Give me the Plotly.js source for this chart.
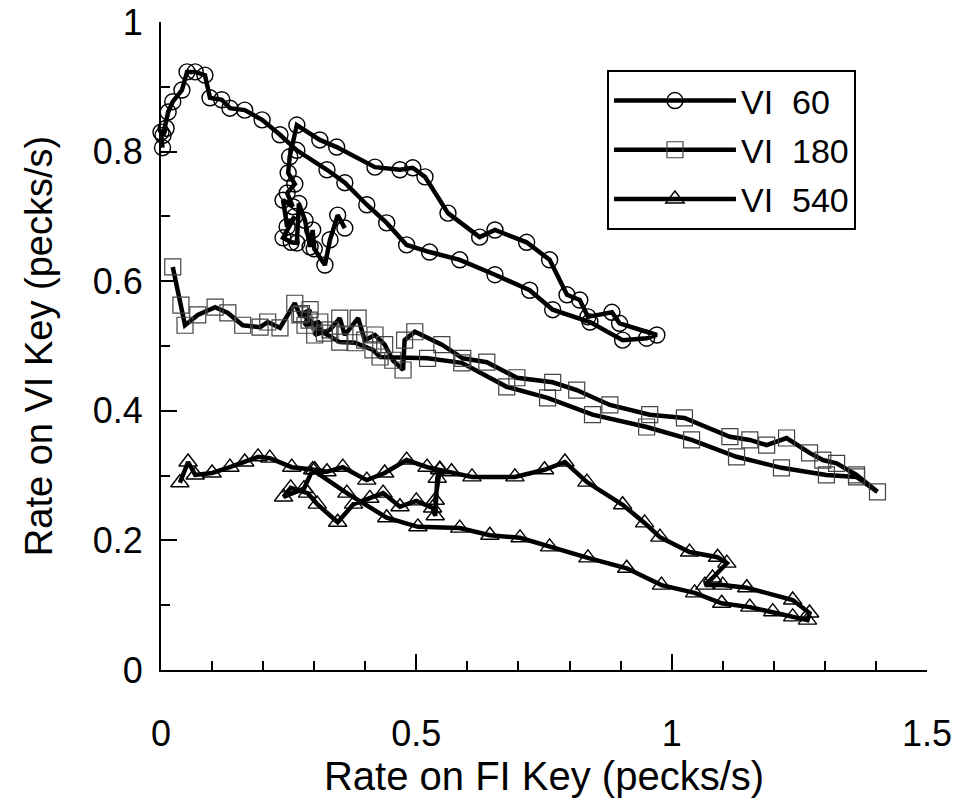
<!DOCTYPE html>
<html>
<head>
<meta charset="utf-8">
<script src="https://cdn.plot.ly/plotly-3.0.1.min.js"></script>
<style>html,body{margin:0;padding:0;background:#fff;}</style>
</head>
<body>
<div id="chart" style="width:962px;height:804px;"></div>
<script>
// ---- Series names ----
const seriesNames = ["VI\u00a0\u00a060", "VI\u00a0\u00a0180", "VI\u00a0\u00a0540"];

// ---- VI 60 (circles) ----
const vi60X = [0.003, 0.000, 0.010, 0.004, 0.014, 0.023, 0.041, 0.051, 0.067, 0.086, 0.096, 0.119, 0.135, 0.164, 0.198, 0.233,
  0.266, 0.325, 0.360, 0.403, 0.442, 0.481, 0.526, 0.585, 0.654, 0.722, 0.767, 0.840, 0.904, 0.951, 0.971,
  0.898, 0.883, 0.836, 0.820, 0.795, 0.761, 0.716, 0.654, 0.624, 0.562, 0.517, 0.493, 0.468, 0.419, 0.344, 0.311, 0.266,
  0.252, 0.249, 0.262, 0.247, 0.258, 0.239, 0.247, 0.262, 0.239, 0.255, 0.266, 0.270, 0.282, 0.292, 0.297, 0.300, 0.321, 0.331, 0.346, 0.360];
const vi60Y = [0.806, 0.830, 0.836, 0.825, 0.861, 0.877, 0.895, 0.923, 0.923, 0.918, 0.883, 0.880, 0.867, 0.864, 0.849, 0.826,
  0.802, 0.772, 0.752, 0.718, 0.690, 0.656, 0.645, 0.633, 0.610, 0.586, 0.556, 0.537, 0.509, 0.512, 0.517,
  0.535, 0.552, 0.545, 0.571, 0.579, 0.633, 0.660, 0.679, 0.668, 0.705, 0.761, 0.775, 0.772, 0.776, 0.807, 0.818, 0.841,
  0.792, 0.767, 0.750, 0.736, 0.715, 0.725, 0.684, 0.700, 0.667, 0.660, 0.659, 0.720, 0.694, 0.653, 0.679, 0.650, 0.625, 0.664, 0.702, 0.682];

// ---- VI 180 (squares) ----
const vi180X = [0.023, 0.039, 0.047, 0.072, 0.106, 0.131, 0.160, 0.194, 0.209, 0.233,
  0.262, 0.272, 0.292, 0.282, 0.311, 0.301, 0.331, 0.350, 0.360, 0.386, 0.399, 0.419, 0.438, 0.454, 0.474, 0.477,
  0.497, 0.550, 0.591, 0.638, 0.697, 0.767, 0.814, 0.879, 0.957, 1.025, 1.114, 1.153, 1.186, 1.225, 1.270, 1.296, 1.323, 1.362, 1.403,
  1.362, 1.303, 1.215, 1.127, 1.039, 0.951, 0.845, 0.757, 0.677, 0.589, 0.522, 0.429, 0.415, 0.380, 0.350, 0.320, 0.290, 0.275];
const vi180Y = [0.622, 0.563, 0.532, 0.548, 0.560, 0.551, 0.532, 0.529, 0.537, 0.528,
  0.566, 0.548, 0.556, 0.532, 0.537, 0.517, 0.525, 0.543, 0.517, 0.543, 0.509, 0.517, 0.502, 0.478, 0.463, 0.509,
  0.522, 0.502, 0.481, 0.475, 0.451, 0.444, 0.432, 0.409, 0.394, 0.389, 0.360, 0.355, 0.347, 0.358, 0.335, 0.324, 0.319, 0.301, 0.275,
  0.298, 0.301, 0.312, 0.329, 0.355, 0.375, 0.394, 0.420, 0.437, 0.474, 0.481, 0.483, 0.494, 0.505, 0.506, 0.520, 0.540, 0.550];

// ---- VI 540 (triangles) ----
const vi540X = [0.037, 0.053, 0.067, 0.100, 0.135, 0.164, 0.190, 0.213, 0.256, 0.301, 0.325, 0.356, 0.403, 0.438, 0.481, 0.521, 0.546, 0.569, 0.609, 0.693, 0.751, 0.791,
  0.834, 0.904, 0.947, 0.977, 1.035, 1.090, 1.108, 1.080, 1.065, 1.100, 1.147, 1.237, 1.270, 1.266,
  1.237, 1.198, 1.153, 1.098, 1.045, 0.980, 0.912, 0.836, 0.761, 0.703, 0.644, 0.585, 0.503, 0.442, 0.364, 0.297,
  0.280, 0.240, 0.254, 0.287, 0.306, 0.346, 0.377, 0.409, 0.435, 0.468, 0.500, 0.532, 0.537, 0.541, 0.546, 0.537];
const vi540Y = [0.289, 0.321, 0.301, 0.304, 0.313, 0.321, 0.329, 0.327, 0.313, 0.309, 0.306, 0.313, 0.293, 0.304, 0.324, 0.313, 0.309, 0.306, 0.298, 0.298, 0.309, 0.321,
  0.290, 0.255, 0.227, 0.205, 0.182, 0.174, 0.165, 0.142, 0.131, 0.131, 0.127, 0.108, 0.088, 0.077,
  0.082, 0.090, 0.097, 0.103, 0.119, 0.131, 0.157, 0.173, 0.190, 0.204, 0.208, 0.219, 0.221, 0.235, 0.273, 0.309,
  0.280, 0.267, 0.281, 0.273, 0.256, 0.228, 0.256, 0.265, 0.273, 0.252, 0.261, 0.250, 0.238, 0.296, 0.310, 0.262];

// ---- Axis ticks ----
const xTickVals = [0, 0.5, 1, 1.5];
const xTickText = ["0", "0.5", "1", "1.5"];
const yTickVals = [0, 0.2, 0.4, 0.6, 0.8, 1];
const yTickText = ["0", "0.2", "0.4", "0.6", "0.8", "1"];

const FONT = '"Liberation Sans", Arial, Helvetica, sans-serif';

function trace(name, xs, ys, symbol, mcolor, mwidth) {
  return {
    type: 'scatter', mode: 'lines+markers', name: name, x: xs, y: ys,
    line: {color: '#000', width: 4.5},
    marker: {symbol: symbol, size: 16, color: mcolor, line: {color: mcolor, width: mwidth}},
    cliponaxis: false, legendgroup: name
  };
}

const data = [
  trace(seriesNames[0], vi60X, vi60Y, 'circle-open', '#000', 1.4),
  trace(seriesNames[1], vi180X, vi180Y, 'square-open', '#444', 1.2),
  trace(seriesNames[2], vi540X, vi540Y, 'triangle-up-open', '#000', 1.4)
];

const layout = {
  width: 962, height: 804,
  margin: {l: 161, r: 35, t: 22, b: 134},
  paper_bgcolor: '#fff', plot_bgcolor: '#fff',
  font: {family: FONT, color: '#000'},
  showlegend: true,
  legend: {
    x: 0.5822, y: 0.926, xanchor: 'left', yanchor: 'top',
    bgcolor: '#fff', bordercolor: '#000', borderwidth: 2,
    font: {family: FONT, size: 34, color: '#000'},
    itemwidth: 122, tracegroupgap: 2
  },
  xaxis: {
    range: [0, 1.5], showline: true, linecolor: '#000', linewidth: 2,
    showgrid: false, zeroline: false,
    ticks: 'inside', ticklen: 16, tickwidth: 2, tickcolor: '#000',
    tickmode: 'array', tickvals: xTickVals, ticktext: xTickText,
    tickfont: {family: FONT, size: 36, color: '#000'},
    ticklabelstandoff: 31,
    minor: {ticks: 'inside', ticklen: 9, tickwidth: 2, tickcolor: '#000', dtick: 0.1, tick0: 0, showgrid: false},
    title: {text: 'Rate on FI Key (pecks/s)', font: {family: FONT, size: 40, color: '#000'}, standoff: 4},
    automargin: false
  },
  yaxis: {
    range: [0, 1], showline: true, linecolor: '#000', linewidth: 2,
    showgrid: false, zeroline: false,
    ticks: 'inside', ticklen: 16, tickwidth: 2, tickcolor: '#000',
    tickmode: 'array', tickvals: yTickVals, ticktext: yTickText,
    tickfont: {family: FONT, size: 36, color: '#000'},
    ticklabelstandoff: 9,
    minor: {ticks: 'inside', ticklen: 9, tickwidth: 2, tickcolor: '#000', dtick: 0.1, tick0: 0, showgrid: false},
    title: {text: 'Rate on VI Key (pecks/s)\u00a0\u00a0\u00a0\u00a0\u00a0\u00a0\u00a0', font: {family: FONT, size: 38, color: '#000'}, standoff: 28},
    automargin: false
  }
};

Plotly.newPlot('chart', data, layout, {displayModeBar: false, staticPlot: true});
</script>
</body>
</html>
